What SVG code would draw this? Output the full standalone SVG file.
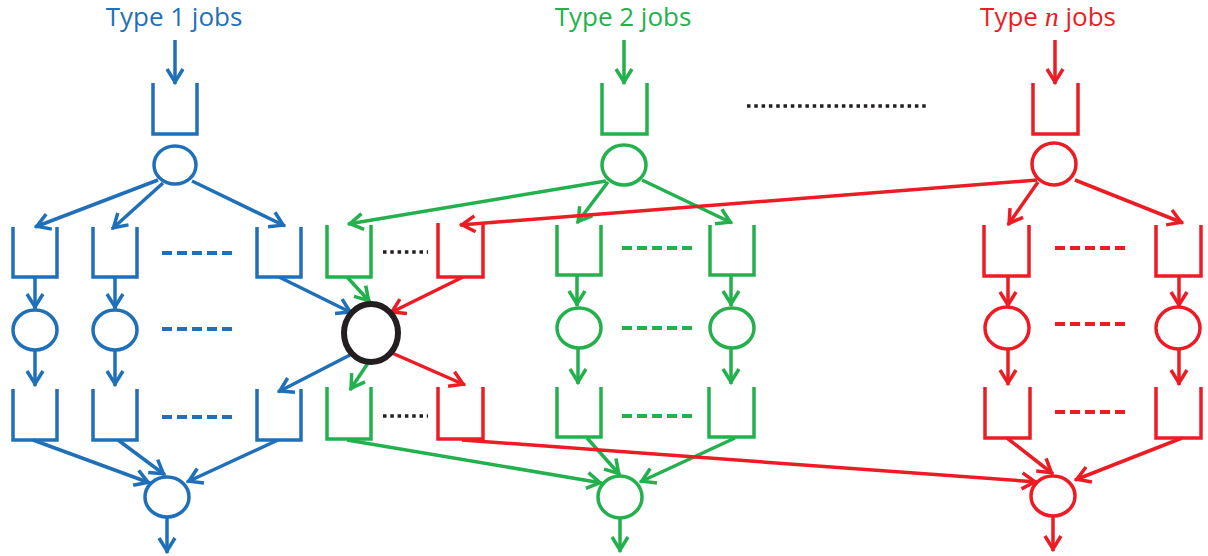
<svg xmlns="http://www.w3.org/2000/svg" width="1208" height="556" viewBox="0 0 1208 556">
<style>
.b{stroke:#1f70b8}.g{stroke:#22b14c}.r{stroke:#ed1c24}.k{stroke:#231f20}
.q,.n,.e{fill:none;stroke-width:3.5;stroke-linejoin:miter}
.n{fill:#fff}
.e.b{marker-end:url(#mb)}.e.g{marker-end:url(#mg)}.e.r{marker-end:url(#mr)}
.d{stroke-width:4;stroke-dasharray:10 5;fill:none}
.dot{stroke-width:3.5;stroke-dasharray:3.5 3.8;fill:none}
.t{font-family:"Open Sans","Liberation Sans",sans-serif;font-size:26px;text-anchor:middle}
</style>
<defs>
<marker id="mb" markerUnits="userSpaceOnUse" orient="auto" overflow="visible" markerWidth="20" markerHeight="20"><path d="M-15,-8 L-2,0 L-15,8" fill="none" stroke="#1f70b8" stroke-width="3.5"/></marker>
<marker id="mg" markerUnits="userSpaceOnUse" orient="auto" overflow="visible" markerWidth="20" markerHeight="20"><path d="M-15,-8 L-2,0 L-15,8" fill="none" stroke="#22b14c" stroke-width="3.5"/></marker>
<marker id="mr" markerUnits="userSpaceOnUse" orient="auto" overflow="visible" markerWidth="20" markerHeight="20"><path d="M-15,-8 L-2,0 L-15,8" fill="none" stroke="#ed1c24" stroke-width="3.5"/></marker>
</defs>
<rect width="1208" height="556" fill="#fff"/>

<g id="connectors">
<!-- blue -->
<line class="e b" x1="175" y1="40" x2="175" y2="84"/>
<line class="e b" x1="158" y1="180" x2="35" y2="227"/>
<line class="e b" x1="163" y1="183" x2="112" y2="229"/>
<line class="e b" x1="192" y1="181" x2="285" y2="226"/>
<line class="e b" x1="35" y1="277" x2="35" y2="309"/>
<line class="e b" x1="115" y1="277" x2="115" y2="309"/>
<line class="e b" x1="35" y1="350" x2="35" y2="386"/>
<line class="e b" x1="115" y1="350" x2="115" y2="386"/>
<line class="e b" x1="279" y1="277" x2="352" y2="313"/>
<line class="e b" x1="350" y1="355" x2="278" y2="392"/>
<line class="e b" x1="33" y1="440" x2="150" y2="483"/>
<line class="e b" x1="118" y1="440" x2="165" y2="475"/>
<line class="e b" x1="278" y1="440" x2="187" y2="482"/>
<line class="e b" x1="167" y1="517" x2="167" y2="553"/>
<!-- green -->
<line class="e g" x1="624" y1="40" x2="624" y2="84"/>
<line class="e g" x1="606" y1="181" x2="348" y2="224"/>
<line class="e g" x1="608" y1="182" x2="577" y2="223"/>
<line class="e g" x1="642" y1="180" x2="732" y2="223"/>
<line class="e g" x1="577" y1="275" x2="577" y2="306"/>
<line class="e g" x1="731" y1="275" x2="731" y2="306"/>
<line class="e g" x1="578" y1="348" x2="578" y2="384"/>
<line class="e g" x1="731" y1="349" x2="731" y2="384"/>
<line class="e g" x1="347" y1="277" x2="370" y2="302"/>
<line class="e g" x1="368" y1="363" x2="350" y2="390"/>
<line class="e g" x1="347" y1="440" x2="602" y2="483"/>
<line class="e g" x1="587" y1="438" x2="620" y2="475"/>
<line class="e g" x1="735" y1="438" x2="640" y2="482"/>
<line class="e g" x1="620" y1="518" x2="620" y2="552"/>
<!-- red -->
<line class="e r" x1="1055" y1="40" x2="1055" y2="84"/>
<line class="e r" x1="1037" y1="180" x2="460" y2="225"/>
<line class="e r" x1="1038" y1="182" x2="1008" y2="225"/>
<line class="e r" x1="1075" y1="180" x2="1183" y2="223"/>
<line class="e r" x1="1008" y1="276" x2="1008" y2="307"/>
<line class="e r" x1="1179" y1="276" x2="1179" y2="307"/>
<line class="e r" x1="1008" y1="349" x2="1008" y2="385"/>
<line class="e r" x1="1179" y1="349" x2="1179" y2="385"/>
<line class="e r" x1="463" y1="277" x2="390" y2="313"/>
<line class="e r" x1="392" y1="353" x2="465" y2="385"/>
<line class="e r" x1="462" y1="440" x2="1037" y2="482"/>
<line class="e r" x1="1007" y1="438" x2="1053" y2="474"/>
<line class="e r" x1="1182" y1="438" x2="1075" y2="480"/>
<line class="e r" x1="1053" y1="516" x2="1053" y2="551"/>
</g>

<g id="labels">
<text class="t" x="174" y="26" fill="#1f70b8">Type 1 jobs</text>
<text class="t" x="623" y="26" fill="#22b14c">Type 2 jobs</text>
<text class="t" x="1048" y="26" fill="#ed1c24">Type <tspan font-family="Liberation Serif, serif" font-style="italic" font-size="28">n</tspan> jobs</text>
</g>

<g id="ellipses">
<line class="dot k" x1="383" y1="252" x2="428" y2="252"/>
<line class="dot k" x1="383" y1="416" x2="428" y2="416"/>
<line class="dot k" x1="747" y1="106" x2="928" y2="106"/>
<line class="d b" x1="162" y1="253" x2="232" y2="253"/>
<line class="d b" x1="162" y1="329" x2="232" y2="329"/>
<line class="d b" x1="162" y1="417" x2="232" y2="417"/>
<line class="d g" x1="622" y1="248" x2="692" y2="248"/>
<line class="d g" x1="622" y1="328" x2="692" y2="328"/>
<line class="d g" x1="622" y1="416" x2="692" y2="416"/>
<line class="d r" x1="1055" y1="248" x2="1126" y2="248"/>
<line class="d r" x1="1055" y1="324" x2="1126" y2="324"/>
<line class="d r" x1="1055" y1="412" x2="1126" y2="412"/>
</g>

<!-- blue nodes -->
<g id="b-q0"><path class="q b" d="M153,83V134H197V83"/></g>
<g id="b-s0"><ellipse class="n b" cx="175" cy="165" rx="21" ry="19"/></g>
<g id="b-q1"><path class="q b" d="M13,227V277H57V227"/></g>
<g id="b-q2"><path class="q b" d="M93,227V277H137V227"/></g>
<g id="b-q3"><path class="q b" d="M257,227V277H301V227"/></g>
<g id="b-s1"><ellipse class="n b" cx="35" cy="330" rx="22" ry="20"/></g>
<g id="b-s2"><ellipse class="n b" cx="115" cy="330" rx="22" ry="20"/></g>
<g id="b-r1"><path class="q b" d="M13,389V440H57V389"/></g>
<g id="b-r2"><path class="q b" d="M93,389V440H137V389"/></g>
<g id="b-r3"><path class="q b" d="M257,389V440H301V389"/></g>
<g id="b-out"><ellipse class="n b" cx="167" cy="497" rx="22" ry="20"/></g>

<!-- shared server -->
<g id="shared"><ellipse cx="371" cy="333" rx="27" ry="29" fill="#fff" stroke="#231f20" stroke-width="6"/></g>

<!-- green nodes -->
<g id="g-q0"><path class="q g" d="M602,83V134H647V83"/></g>
<g id="g-s0"><ellipse class="n g" cx="624" cy="165" rx="22" ry="20"/></g>
<g id="g-q1"><path class="q g" d="M327,225V277H371V225"/></g>
<g id="g-q2"><path class="q g" d="M557,225V275H601V225"/></g>
<g id="g-q3"><path class="q g" d="M710,225V275H754V225"/></g>
<g id="g-s2"><ellipse class="n g" cx="579" cy="328" rx="22" ry="20"/></g>
<g id="g-s3"><ellipse class="n g" cx="732" cy="328" rx="22" ry="20"/></g>
<g id="g-r1"><path class="q g" d="M327,387V439H371V387"/></g>
<g id="g-r2"><path class="q g" d="M557,387V437H601V387"/></g>
<g id="g-r3"><path class="q g" d="M709,387V437H754V387"/></g>
<g id="g-out"><ellipse class="n g" cx="620" cy="497" rx="22" ry="21"/></g>

<!-- red nodes -->
<g id="r-q0"><path class="q r" d="M1033,83V134H1078V83"/></g>
<g id="r-s0"><ellipse class="n r" cx="1054" cy="164" rx="22" ry="21"/></g>
<g id="r-q1"><path class="q r" d="M438,223V277H483V223"/></g>
<g id="r-q2"><path class="q r" d="M984,225V276H1029V225"/></g>
<g id="r-q3"><path class="q r" d="M1156,225V276H1201V225"/></g>
<g id="r-s2"><ellipse class="n r" cx="1007" cy="328" rx="22" ry="21"/></g>
<g id="r-s3"><ellipse class="n r" cx="1178" cy="328" rx="22" ry="21"/></g>
<g id="r-r1"><path class="q r" d="M438,387V439H483V387"/></g>
<g id="r-r2"><path class="q r" d="M985,387V438H1030V387"/></g>
<g id="r-r3"><path class="q r" d="M1156,387V438H1201V387"/></g>
<g id="r-out"><ellipse class="n r" cx="1053" cy="496" rx="22" ry="20"/></g>
</svg>
